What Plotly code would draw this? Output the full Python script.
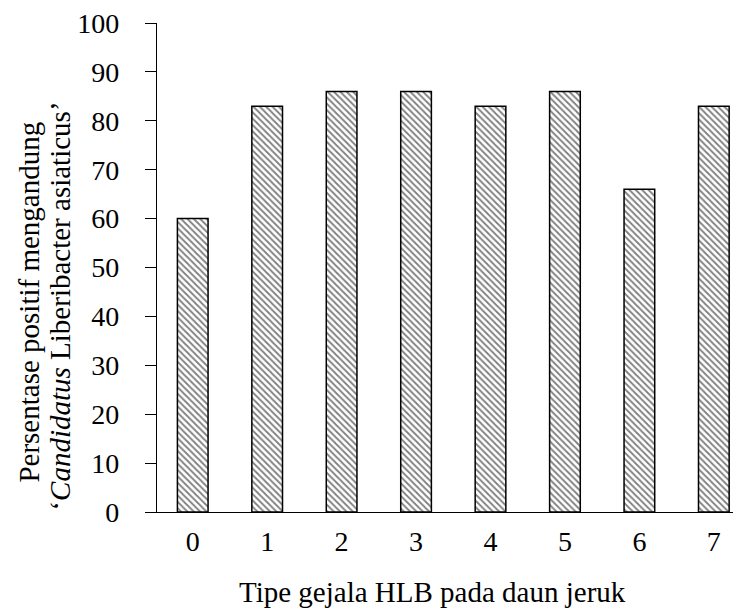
import plotly.graph_objects as go

categories = ["0", "1", "2", "3", "4", "5", "6", "7"]
values = [60, 83, 86, 86, 83, 86, 66, 83]
y_ticks = [0, 10, 20, 30, 40, 50, 60, 70, 80, 90, 100]
x_title = "Tipe gejala HLB pada daun jeruk"
y_title_1 = "Persentase positif mengandung"
y_title_2 = "‘<i>Candidatus</i> Liberibacter asiaticus’"

FONT = "Liberation Serif, Times New Roman, serif"
FS = 28
FS_T = 29

OFF = 8  # page body margin in the browser
W, H = 741 - OFF, 614 - OFF
L, R, T, B = 156.5 - OFF, 0, 23 - OFF, 102
pw = W - L - R
ph = H - T - B

def px_x(p):
    return (p - OFF - L) / pw

def px_y(p):
    return (H - B - (p - OFF)) / ph

fig = go.Figure()
fig.add_trace(go.Bar(
    x=list(range(len(categories))),
    y=values,
    width=0.412,
    marker=dict(
        color="white",
        line=dict(color="black", width=1.5),
        pattern=dict(shape="\\", fgcolor="black", bgcolor="white", size=4.5, solidity=0.4),
    ),
))

fig.update_layout(
    width=W, height=H,
    margin=dict(l=L, r=R, t=T, b=B, pad=0),
    paper_bgcolor="white", plot_bgcolor="white",
    showlegend=False,
    font=dict(family=FONT, size=FS, color="black"),
    xaxis=dict(
        range=[-0.48, 7.365],
        tickmode="array",
        tickvals=list(range(len(categories))),
        ticktext=categories,
        showline=True, linecolor="black", linewidth=1.3,
        ticks="", showgrid=False, zeroline=False,
        ticklabelstandoff=4,
        tickfont=dict(family=FONT, size=FS, color="black"),
    ),
    yaxis=dict(
        range=[0, 100],
        tickmode="array",
        tickvals=y_ticks,
        ticktext=[str(v) for v in y_ticks],
        showline=True, linecolor="black", linewidth=1.3,
        ticks="outside", ticklen=11, tickwidth=1.3, tickcolor="black",
        showgrid=False, zeroline=False,
        ticklabelstandoff=20,
        ticklabeloverflow="allow",
        tickfont=dict(family=FONT, size=FS, color="black"),
    ),
    annotations=[
        dict(text=x_title, xref="paper", yref="paper", x=px_x(432), y=px_y(592),
             xanchor="center", yanchor="middle", showarrow=False,
             font=dict(family=FONT, size=FS_T, color="black")),
        dict(text=y_title_1, xref="paper", yref="paper", x=px_x(28), y=px_y(302),
             xanchor="center", yanchor="middle", showarrow=False, textangle=-90,
             font=dict(family=FONT, size=FS_T, color="black")),
        dict(text=y_title_2, xref="paper", yref="paper", x=px_x(59), y=px_y(306),
             xanchor="center", yanchor="middle", showarrow=False, textangle=-90,
             font=dict(family=FONT, size=FS_T, color="black")),
    ],
)

fig.write_html("out.html")
